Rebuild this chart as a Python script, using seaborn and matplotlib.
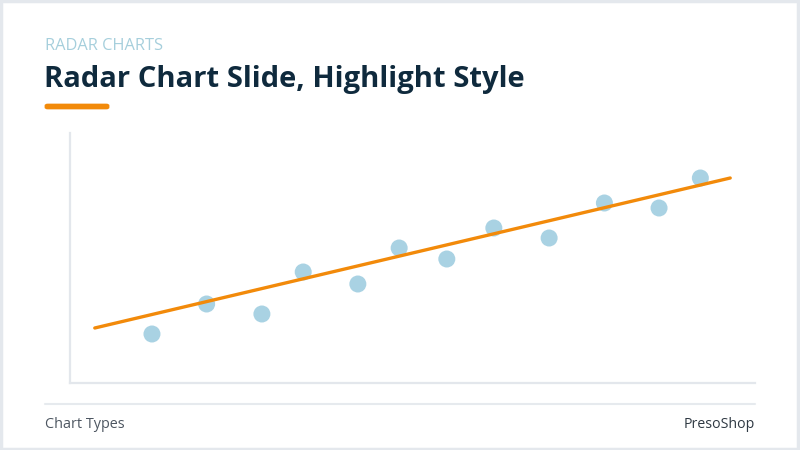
import numpy as np
import pandas as pd
import matplotlib.pyplot as plt
import seaborn as sns
from matplotlib.patches import Rectangle, FancyBboxPatch

# values (arbitrary units)
x_vals = [0.90, 1.76, 2.63, 3.28, 4.14, 4.79, 5.54, 6.28, 7.15, 8.02, 8.88, 9.53]
y_vals = [19.6, 31.6, 27.6, 44.4, 39.6, 54.0, 49.6, 62.0, 58.0, 72.0, 70.0, 82.0]

# highlighted trend line (start / end)
trend_x = [0.0, 10.0]
trend_y = [22.0, 82.0]

eyebrow = "RADAR CHARTS"
title = "Radar Chart Slide, Highlight Style"
footer_left = "Chart Types"
footer_right = "PresoShop"

points = pd.DataFrame({"x": x_vals, "y": y_vals})
trend = pd.DataFrame({"x": trend_x, "y": trend_y})

sns.set_theme(style="white")
plt.rcParams["font.family"] = ["Open Sans", "DejaVu Sans"]

fig = plt.figure(figsize=(8, 4.5), dpi=100)
fig.patch.set_facecolor("white")

ax = fig.add_axes([70 / 800, 1 - 383 / 450, 685 / 800, 250 / 450])
sns.scatterplot(data=points, x="x", y="y", ax=ax, s=150, color="#a9d2e3",
                edgecolor="none", zorder=2)
sns.lineplot(data=trend, x="x", y="y", ax=ax, color="#f28a0a", linewidth=2.4,
             zorder=3)

ax.set_xlim(-0.39, 10.39)
ax.set_ylim(0, 100)
ax.set_xticks([])
ax.set_yticks([])
ax.set_xlabel("")
ax.set_ylabel("")
for side in ["top", "right"]:
    ax.spines[side].set_visible(False)
for side in ["left", "bottom"]:
    ax.spines[side].set_color("#e3e7ec")
    ax.spines[side].set_linewidth(1.6)

# header
fig.text(45 / 800, 1 - 46 / 450, eyebrow, color="#a6cfdc", fontsize=11.8,
         va="center", ha="left")
fig.text(44 / 800, 1 - 79 / 450, title, color="#0f2a3d", fontsize=21,
         fontweight="bold", va="center", ha="left")
fig.patches.append(FancyBboxPatch((47 / 800, 1 - 108 / 450), 60 / 800, 3 / 450,
                                  boxstyle="round,pad=0.003,rounding_size=0.004",
                                  transform=fig.transFigure, facecolor="#f28a0a",
                                  edgecolor="none"))

# footer
fig.add_artist(plt.Line2D([45 / 800, 755 / 800], [1 - 404 / 450, 1 - 404 / 450],
                          transform=fig.transFigure, color="#e6eaee", linewidth=1.5))
fig.text(45 / 800, 1 - 424 / 450, footer_left, color="#4d5661", fontsize=10.4,
         va="center", ha="left")
fig.text(755 / 800, 1 - 424 / 450, footer_right, color="#2f3943", fontsize=10.2,
         va="center", ha="right")

# slide border
fig.patches.append(Rectangle((0.001, 0.002), 0.997, 0.996, transform=fig.transFigure,
                             fill=False, edgecolor="#e4e8ed", linewidth=2.5))

fig.savefig("out.png", dpi=100)
